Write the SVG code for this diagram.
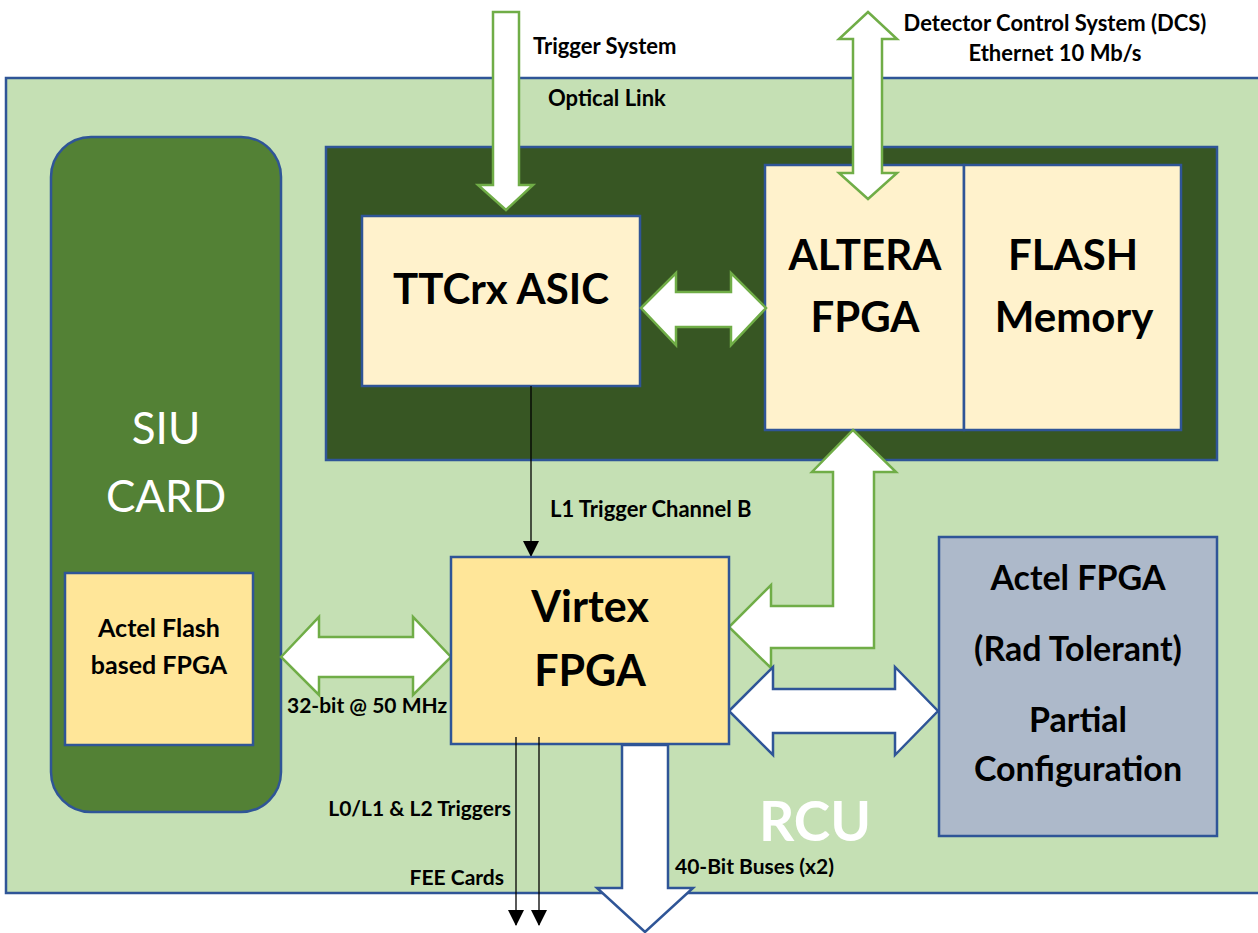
<svg xmlns="http://www.w3.org/2000/svg" width="1258" height="933" viewBox="0 0 1258 933">
<style>
.bx{stroke:#2F5597;stroke-width:2.5}
.ga{fill:#fff;stroke:#70AD47;stroke-width:2.5;stroke-linejoin:miter}
.ba{fill:#fff;stroke:#2F5597;stroke-width:2.5;stroke-linejoin:miter}
.t{font-family:Lato,"Liberation Sans",sans-serif;font-weight:bold;fill:#000}
.c{text-anchor:middle}
.w{fill:#fff}
.n{font-weight:normal}
.ln{stroke:#000;stroke-width:1.3;fill:none}
</style>
<defs>
<marker id="ah" viewBox="0 0 16 16" refX="15" refY="8" markerWidth="16" markerHeight="16" markerUnits="userSpaceOnUse" orient="auto">
<path d="M0,0 L16,8 L0,16 Z" fill="#000"/>
</marker>
</defs>
<rect x="0" y="0" width="1258" height="933" fill="#fff"/>
<g id="rcu">
<rect class="bx" x="6" y="78" width="1262" height="815" fill="#C5E0B4"/>
<text class="t c w" x="815" y="841" font-size="55">RCU</text>
</g>
<g id="siu-card">
<rect class="bx" x="51" y="137" width="230" height="675" rx="40" ry="40" fill="#538135"/>
<text class="t c w n" x="166" y="444" font-size="44">SIU</text>
<text class="t c w n" x="166" y="512" font-size="44">CARD</text>
</g>
<g id="dark-box">
<rect class="bx" x="326" y="147" width="891" height="313" fill="#375623"/>
</g>
<g id="ttcrx">
<rect class="bx" x="362" y="216" width="278" height="170" fill="#FFF2CC"/>
<text class="t c" x="501" y="304" font-size="42">TTCrx ASIC</text>
</g>
<g id="altera">
<rect class="bx" x="765" y="165" width="199" height="265" fill="#FFF2CC"/>
<text class="t c" x="865" y="270" font-size="42">ALTERA</text>
<text class="t c" x="865" y="332" font-size="42">FPGA</text>
</g>
<g id="flash">
<rect class="bx" x="964" y="165" width="217" height="265" fill="#FFF2CC"/>
<text class="t c" x="1073" y="270" font-size="42">FLASH</text>
<text class="t c" x="1074" y="332" font-size="42">Memory</text>
</g>
<g id="connectors">
<polygon class="ba" points="622,745 668,745 668,888 693,888 645,932 597,888 622,888"/>
<polygon class="ga" points="493,12 519,12 519,185 533,185 506,210 478,185 493,185"/>
<polygon class="ga" points="868,12 897,39 882,39 882,173 897,173 868,199 839,173 853,173 853,39 839,39"/>
<polygon class="ga" points="641,308 676,273 676,292 731,292 731,273 766,308 731,345 731,327 676,327 676,345"/>
<polygon class="ga" points="853,430 896,472 874,472 874,648 771,648 771,668 729,627 771,585 771,606 833,606 833,472 812,472"/>
<polygon class="ga" points="281,657 319,617 319,637 413,637 413,617 451,657 413,695 413,677 319,677 319,695"/>
<polygon class="ba" points="729,711 773,667 773,689 895,689 895,667 938,711 895,755 895,733 773,733 773,755"/>
<line class="ln" x1="531" y1="386" x2="531" y2="556" marker-end="url(#ah)"/>
</g>
<g id="virtex">
<rect class="bx" x="451" y="557" width="278" height="187" fill="#FFE699"/>
<text class="t c" x="590" y="622" font-size="43">Virtex</text>
<text class="t c" x="590" y="686" font-size="43">FPGA</text>
</g>
<g id="bus-lines">
<line class="ln" x1="516" y1="737" x2="516" y2="925" marker-end="url(#ah)"/>
<line class="ln" x1="539" y1="737" x2="539" y2="925" marker-end="url(#ah)"/>
</g>
<g id="actel-flash">
<rect class="bx" x="65" y="573" width="188" height="172" fill="#FFE699"/>
<text class="t c" x="159" y="637" font-size="25">Actel Flash</text>
<text class="t c" x="159" y="674" font-size="25">based FPGA</text>
</g>
<g id="actel-fpga">
<rect class="bx" x="939" y="537" width="278" height="299" fill="#ADB9CA"/>
<text class="t c" x="1078" y="590" font-size="34">Actel FPGA</text>
<text class="t c" x="1078" y="661" font-size="34">(Rad Tolerant)</text>
<text class="t c" x="1078" y="732" font-size="34">Partial</text>
<text class="t c" x="1078" y="781" font-size="34">Configuration</text>
</g>
<g id="labels">
<text class="t" x="533" y="54" font-size="22">Trigger System</text>
<text class="t" x="548" y="106" font-size="22">Optical Link</text>
<text class="t c" x="1055" y="31" font-size="22">Detector Control System (DCS)</text>
<text class="t c" x="1055" y="61" font-size="22">Ethernet 10 Mb/s</text>
<text class="t" x="550" y="517" font-size="22">L1 Trigger Channel B</text>
<text class="t" x="287" y="713" font-size="21">32-bit @ 50 MHz</text>
<text class="t" x="511" y="816" font-size="21" text-anchor="end">L0/L1 &amp; L2 Triggers</text>
<text class="t" x="504" y="885" font-size="21" text-anchor="end">FEE Cards</text>
<text class="t" x="675" y="874" font-size="21">40-Bit Buses (x2)</text>
</g>
</svg>
